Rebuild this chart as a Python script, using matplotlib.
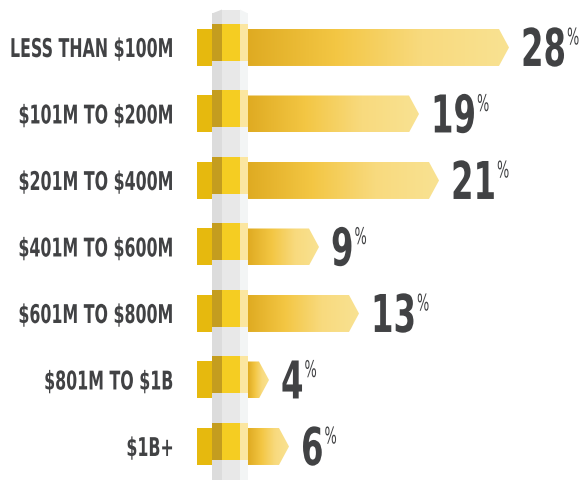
import numpy as np
import matplotlib.pyplot as plt
from matplotlib.colors import LinearSegmentedColormap
from matplotlib.patches import Polygon, Rectangle
from matplotlib.patheffects import AbstractPathEffect
from matplotlib.transforms import Affine2D

categories = ['LESS THAN $100M', '$101M TO $200M', '$201M TO $400M',
              '$401M TO $600M', '$601M TO $800M', '$801M TO $1B', '$1B+']
values = [28, 19, 21, 9, 13, 4, 6]

text_color = '#414244'


class Tall(AbstractPathEffect):
    # stretch glyphs upward from the baseline (the reference uses a condensed face)
    def __init__(self, sy):
        super().__init__()
        self.sy = sy

    def draw_path(self, renderer, gc, tpath, affine, rgbFace=None):
        renderer.draw_path(gc, tpath, Affine2D().scale(1, self.sy) + affine, rgbFace)


fig = plt.figure(figsize=(5.82, 4.8), dpi=100)
ax = fig.add_axes([0, 0, 1, 1])
ax.set_xlim(-22.9, 35.3)
ax.set_ylim(6.504, -0.714)
ax.axis('off')

bar_h = 0.556
tip = 1.0
start = 1.9
shift = 5 / 66.5   # pole band sits a little higher than the bar

grad = LinearSegmentedColormap.from_list(
    'bar', ['#dfab22', '#f3c643', '#f8da7e', '#f9e292'])
ramp = np.linspace(0, 1, 256).reshape(1, -1)

# pole
pole_top, pole_bot = -0.571, 6.6
strips = [(-1.7, -0.7, '#dcdcdc'), (-0.7, 1.1, '#e8e8e8'), (1.1, 1.9, '#f3f5f5')]
for x0, x1, c in strips:
    ax.add_patch(Rectangle((x0, pole_top + 0.06), x1 - x0, pole_bot - pole_top,
                           color=c, lw=0, zorder=1))
ax.add_patch(Polygon([(-1.7, pole_top + 0.06), (-0.7, pole_top), (-0.7, pole_top + 0.06)],
                     color='#dcdcdc', lw=0, zorder=1))
ax.add_patch(Rectangle((-0.7, pole_top), 1.8, 0.07, color='#e8e8e8', lw=0, zorder=1))
ax.add_patch(Polygon([(1.1, pole_top), (1.9, pole_top + 0.06), (1.1, pole_top + 0.06)],
                     color='#f3f5f5', lw=0, zorder=1))

band = [(-1.7, -0.7, '#c49d1f'), (-0.7, 1.1, '#f5cd22'), (1.1, 1.9, '#fbe6a0')]

for i, (cat, v) in enumerate(zip(categories, values)):
    y0 = i - bar_h / 2
    y1 = i + bar_h / 2
    # block left of the pole
    ax.add_patch(Rectangle((-3.2, y0), 1.5, bar_h, color='#e6b90e', lw=0, zorder=2))
    # band wrapped round the pole
    for x0, x1, c in band:
        ax.add_patch(Rectangle((x0, y0 - shift), x1 - x0, bar_h, color=c, lw=0, zorder=3))
    # arrow bar with gradient
    arrow = Polygon([(start, y0), (v - tip, y0), (v, i), (v - tip, y1), (start, y1)],
                    closed=True, fc='none', ec='none')
    ax.add_patch(arrow)
    im = ax.imshow(ramp, cmap=grad, aspect='auto', extent=(start, v, y1, y0),
                   interpolation='bicubic', zorder=2)
    im.set_clip_path(arrow)
    # category label
    ax.annotate(cat, xy=(-5.5, i), xytext=(0, -9.5), textcoords='offset pixels',
                ha='right', va='baseline', fontsize=11.4, fontweight='bold',
                family='DejaVu Sans', color=text_color, parse_math=False,
                path_effects=[Tall(1.63)])
    # value label
    num = ax.text(v + 1.2, y1, str(v), ha='left', va='baseline', fontsize=23.3,
                  fontweight='bold', family='DejaVu Sans', color=text_color,
                  path_effects=[Tall(1.61)])
    ax.annotate('%', xy=(1, y1), xycoords=(num, 'data'), xytext=(1, 21.5),
                textcoords='offset pixels', ha='left', va='baseline', fontsize=9.3,
                family='DejaVu Sans', color=text_color, parse_math=False,
                path_effects=[Tall(1.78)])

fig.savefig('out.png', dpi=100)
